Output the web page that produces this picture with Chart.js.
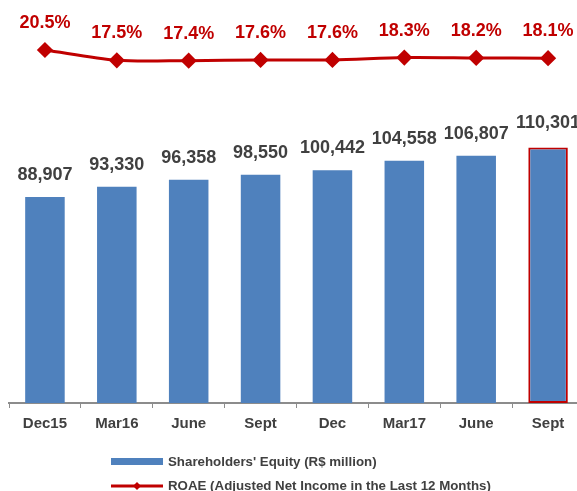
<!DOCTYPE html>
<html>
<head>
<meta charset="utf-8">
<script src="https://cdn.jsdelivr.net/npm/chart.js@4"></script>
<style>
  html, body { margin: 0; padding: 0; background: #fff; overflow: hidden; }
  #wrap { width: 593px; height: 491px; }
</style>
</head>
<body>
<div id="wrap"><canvas id="equityChart" width="593" height="491"></canvas></div>
<script>
const periods = ['Dec15', 'Mar16', 'June', 'Sept', 'Dec', 'Mar17', 'June', 'Sept'];
const equity = [88907, 93330, 96358, 98550, 100442, 104558, 106807, 110301];
const roae = [20.5, 17.5, 17.4, 17.6, 17.6, 18.3, 18.2, 18.1];

const blue = '#4F81BD';
const red = '#C00000';
const gray = '#404040';
const fontFamily = "'Liberation Sans', Arial, sans-serif";

// rótulos de valor acima das barras e dos pontos
const valueLabels = {
  id: 'valueLabels',
  afterDatasetsDraw(chart) {
    const ctx = chart.ctx;
    ctx.save();
    ctx.textAlign = 'center';
    ctx.textBaseline = 'middle';
    ctx.font = 'bold 18px ' + fontFamily;

    chart.getDatasetMeta(1).data.forEach((bar, i) => {
      ctx.fillStyle = gray;
      const off = i === equity.length - 1 ? 25 : 22;
      ctx.fillText(equity[i].toLocaleString('en-US'), bar.x, bar.y - off);
    });

    chart.getDatasetMeta(0).data.forEach((pt, i) => {
      ctx.fillStyle = red;
      ctx.fillText(roae[i].toFixed(1) + '%', pt.x, pt.y - 27);
    });
    ctx.restore();
  }
};

// legenda desenhada à mão, alinhada à esquerda
const customLegend = {
  id: 'customLegend',
  afterDraw(chart) {
    const ctx = chart.ctx;
    ctx.save();
    ctx.font = 'bold 13.3px ' + fontFamily;
    ctx.textBaseline = 'middle';

    ctx.fillStyle = blue;
    ctx.fillRect(111, 458, 52, 7);
    ctx.fillStyle = gray;
    ctx.fillText(chart.data.datasets[1].label, 168, 462);

    ctx.strokeStyle = red;
    ctx.lineWidth = 3;
    ctx.beginPath();
    ctx.moveTo(111, 486);
    ctx.lineTo(163, 486);
    ctx.stroke();
    ctx.fillStyle = red;
    ctx.beginPath();
    ctx.moveTo(137, 482);
    ctx.lineTo(141, 486);
    ctx.lineTo(137, 490);
    ctx.lineTo(133, 486);
    ctx.closePath();
    ctx.fill();
    ctx.fillStyle = gray;
    ctx.fillText(chart.data.datasets[0].label, 168, 486);
    ctx.restore();
  }
};

new Chart(document.getElementById('equityChart'), {
  type: 'bar',
  data: {
    labels: periods,
    datasets: [
      {
        type: 'line',
        label: 'ROAE (Adjusted Net Income in the Last 12 Months)',
        data: roae,
        yAxisID: 'y2',
        borderColor: red,
        backgroundColor: red,
        borderWidth: 3,
        tension: 0.3,
        pointStyle: 'rectRot',
        pointRadius: 6,
        pointBackgroundColor: red,
        pointBorderColor: red,
        order: 0
      },
      {
        label: "Shareholders' Equity (R$ million)",
        data: equity,
        yAxisID: 'y',
        backgroundColor: blue,
        borderColor: equity.map((v, i) => i === equity.length - 1 ? red : blue),
        borderWidth: equity.map((v, i) => i === equity.length - 1 ? 2 : 0),
        borderSkipped: false,
        barPercentage: 0.55,
        categoryPercentage: 1,
        order: 1
      }
    ]
  },
  options: {
    responsive: false,
    animation: false,
    layout: { padding: { left: 9, right: 2, top: 30, bottom: 51 } },
    plugins: {
      legend: { display: false },
      tooltip: { enabled: false }
    },
    scales: {
      x: {
        grid: {
          display: true,
          drawOnChartArea: false,
          drawTicks: true,
          tickLength: 5,
          color: '#8C8C8C',
          offset: true
        },
        border: { display: true, color: '#8C8C8C', width: 2 },
        ticks: {
          color: gray,
          padding: 7,
          font: { family: fontFamily, size: 15, weight: 'bold' }
        }
      },
      y: { display: false, min: 0, max: 161050 },
      y2: { display: false, min: -82.4, max: 26.33 }
    }
  },
  plugins: [valueLabels, customLegend]
});
</script>
</body>
</html>
